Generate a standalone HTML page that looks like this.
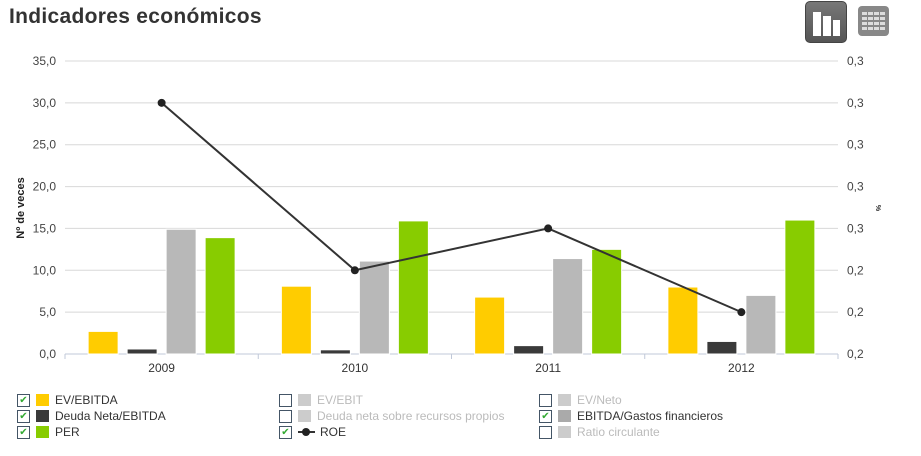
<!DOCTYPE html>
<html><head><meta charset="utf-8"><style>
body{margin:0;width:921px;height:456px;background:#fff;font-family:"Liberation Sans",sans-serif;overflow:hidden;position:relative}
.title{position:absolute;left:9px;top:5px;font-size:21px;color:#333;font-weight:bold;letter-spacing:0.3px}
.legend{position:absolute;font-size:12px;color:#333}
.item{position:absolute;height:16px;display:flex;align-items:center;white-space:nowrap}
.cb{width:11px;height:11px;border:1px solid #456;margin-right:6px;font-size:10px;line-height:11px;text-align:center;color:#3a3}
.sw{width:13px;height:12px;margin-right:6px}
.dis{color:#bbb}
</style></head><body>
<div class="title">Indicadores económicos</div>
<div style="position:absolute;left:805px;top:1px;width:40px;height:40px;border-radius:5px;background:linear-gradient(#777,#555);border:1px solid #444">
<div style="position:absolute;left:7px;top:10px;width:8px;height:24px;background:#fff"></div><div style="position:absolute;left:17px;top:14px;width:8px;height:20px;background:#fff"></div><div style="position:absolute;left:27px;top:18px;width:7px;height:16px;background:#fff"></div></div>
<div style="position:absolute;left:858px;top:6px;width:31px;height:30px;border-radius:4px;background:#888">
<div style="position:absolute;left:4px;top:6px;width:23px;height:18px;background:repeating-linear-gradient(90deg,#ddd 0 5px,transparent 5px 6px);-webkit-mask:repeating-linear-gradient(#000 0 3px,transparent 3px 5px)"></div></div>
<svg id="chart" width="921" height="456" style="position:absolute;left:0;top:0"></svg>
<div class="legend">
<div class="item" style="left:17px;top:392px"><div class="cb">✔</div><div class="sw" style="background:#fc0"></div>EV/EBITDA</div>
<div class="item" style="left:17px;top:408px"><div class="cb">✔</div><div class="sw" style="background:#3a3a3a"></div>Deuda Neta/EBITDA</div>
<div class="item" style="left:17px;top:424px"><div class="cb">✔</div><div class="sw" style="background:#8c0"></div>PER</div>
<div class="item dis" style="left:279px;top:392px"><div class="cb"></div><div class="sw" style="background:#ccc"></div>EV/EBIT</div>
<div class="item dis" style="left:279px;top:408px"><div class="cb"></div><div class="sw" style="background:#ccc"></div>Deuda neta sobre recursos propios</div>
<div class="item" style="left:279px;top:424px"><div class="cb">✔</div><svg width="19" height="12" style="margin-right:3px"><line x1="0" y1="6" x2="17" y2="6" stroke="#333" stroke-width="2"/><circle cx="8" cy="6" r="4" fill="#222"/></svg>ROE</div>
<div class="item dis" style="left:539px;top:392px"><div class="cb"></div><div class="sw" style="background:#ccc"></div>EV/Neto</div>
<div class="item" style="left:539px;top:408px"><div class="cb">✔</div><div class="sw" style="background:#aaa"></div>EBITDA/Gastos financieros</div>
<div class="item dis" style="left:539px;top:424px"><div class="cb"></div><div class="sw" style="background:#ccc"></div>Ratio circulante</div>
</div>
<script>
const categories=["2009","2010","2011","2012"];
const evEbitda=[2.7,8.1,6.8,8.0];
const deudaNeta=[0.6,0.5,1.0,1.5];
const ebitdaGastos=[14.9,11.1,11.4,7.0];
const per=[13.9,15.9,12.5,16.0];
const roe=[0.324,0.228,0.252,0.204];
const leftTicks=[0,5,10,15,20,25,30,35];
const rightTicks=[0.18,0.204,0.228,0.252,0.276,0.3,0.324,0.348];
const svg=document.getElementById('chart');
const NS='http://www.w3.org/2000/svg';
const X0=65,X1=838,Y0=354,Y1=61;
const yL=v=>Y0-(v-0)/35*(Y0-Y1);
const yR=v=>Y0-(v-0.18)/0.168*(Y0-Y1);
const gw=(X1-X0)/categories.length;
const xc=i=>X0+gw*(i+0.5);
function el(t,a){const e=document.createElementNS(NS,t);for(const k in a)e.setAttribute(k,a[k]);svg.appendChild(e);return e;}
leftTicks.forEach((t,i)=>{
 const g=el('line',{x1:X0,x2:X1,y1:yL(t),y2:yL(t),stroke:i==0?'#c0c8d8':'#d8d8d8','stroke-width':1});
 
 
 const tx=el('text',{x:56,y:yL(t)+4,'text-anchor':'end','font-size':12,fill:'#444'});
 tx.textContent=t.toFixed(1).replace('.',',');
 
 
});
rightTicks.forEach(t=>{
 const tx=el('text',{x:847,y:yR(t)+4,'font-size':12,fill:'#444'});
 tx.textContent=(Math.round(t*10+1e-9)/10).toFixed(1).replace('.',',');
 
 
});
for(let i=0;i<=categories.length;i++){const tk=el('line',{x1:X0+gw*i,x2:X0+gw*i,y1:Y0,y2:Y0+5,stroke:'#c0c8d8'});}
const yt=el('text',{x:0,y:0,transform:'translate(24,208) rotate(-90)','text-anchor':'middle','font-size':11,'font-weight':'bold',fill:'#222'});
yt.textContent='Nº de veces';


const yt2=el('text',{x:0,y:0,transform:'translate(876,208) rotate(90)','text-anchor':'middle','font-size':7,'font-weight':'bold',fill:'#222'});
yt2.textContent='%';


const series=[[evEbitda,'#ffcc00',-58.5,'bar-ev-ebitda'],[deudaNeta,'#3a3a3a',-19.5,'bar-deuda-neta'],[ebitdaGastos,'#b8b8b8',19.5,'bar-ebitda-gastos'],[per,'#88cc00',58.5,'bar-per']];
categories.forEach((c,i)=>{
 series.forEach(s=>{
  const v=s[0][i];
  const b=el('rect',{x:xc(i)+s[2]-15,y:yL(v),width:30,height:Y0-yL(v),fill:s[1],stroke:'#fff','stroke-width':1});
  
  
 });
 const t=el('text',{x:xc(i),y:372,'text-anchor':'middle','font-size':12,fill:'#333'});
 t.textContent=c;
 
 
});
const pl=el('polyline',{points:roe.map((v,i)=>xc(i)+','+yR(v)).join(' '),fill:'none',stroke:'#333','stroke-width':2});


roe.forEach((v,i)=>{const p=el('circle',{cx:xc(i),cy:yR(v),r:4,fill:'#222'});});
</script>
</body></html>
